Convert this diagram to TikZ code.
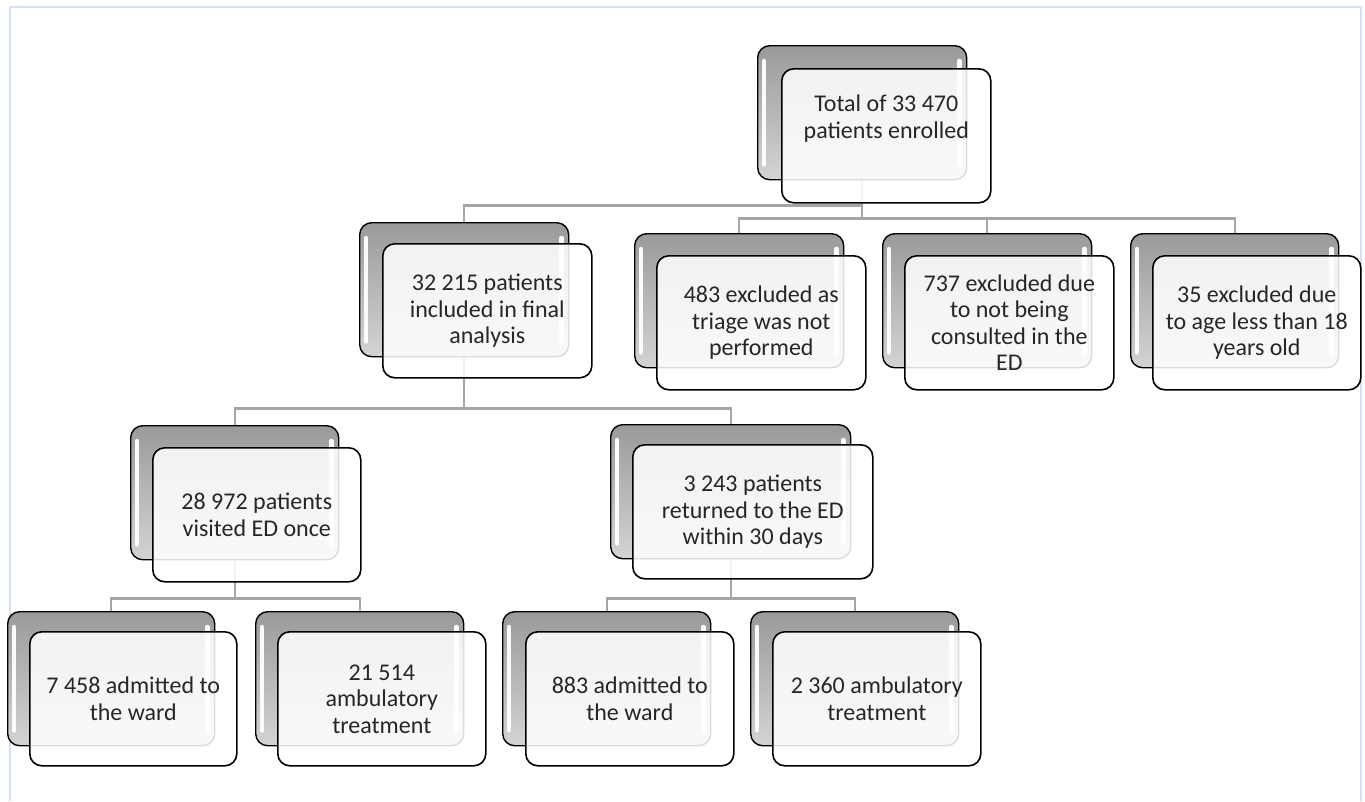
\documentclass[tikz,border=0pt]{standalone}
\usepackage{fontspec}
\setmainfont{Carlito}
\usetikzlibrary{calc}
\pgfdeclarelayer{bg}
\pgfsetlayers{bg,main}
\definecolor{conn}{HTML}{A6A6A6}
\definecolor{framecol}{HTML}{D3E2F4}
\definecolor{backtop}{HTML}{9A9A9A}
\definecolor{backbot}{HTML}{D4D4D4}
\definecolor{txt}{HTML}{262626}
\tikzset{
  backbox/.style={draw=black, line width=1.4pt, rounded corners=12pt, anchor=north west,
    minimum height=134pt, inner sep=0pt, top color=backtop, bottom color=backbot},
  frontbox/.style={draw=black, line width=1.6pt, rounded corners=12pt, anchor=north west,
    minimum height=134pt, minimum width=208pt, inner sep=0pt, fill=white, fill opacity=0.86,
    text opacity=1, text=txt, align=center, font=\fontsize{24}{26.5}\selectfont},
  connector/.style={draw=conn, line width=2.2pt},
  shine/.style={draw=white, line width=4.5pt, line cap=round, opacity=0.95},
}
\newcommand{\pairbox}[7]{%
  % #1 name, #2 back x, #3 back y, #4 width, #5 front x, #6 front y, #7 text
  \node[backbox, minimum width=#4pt] (#1b) at (#2,#3) {};
  \draw[shine] ($(#1b.north west)+(7,16)$) -- ($(#1b.south west)+(7,-16)$);
  \draw[shine] ($(#1b.north east)+(-8,16)$) -- ($(#1b.south east)+(-8,-16)$);
  \node[frontbox, minimum width=#4pt] (#1) at (#5,#6) {#7};
}
\begin{document}
\begin{tikzpicture}[x=1pt, y=-1pt]
\useasboundingbox (0,0) rectangle (1365,801);
\begin{pgfonlayer}{bg}
\fill[white] (0,0) rectangle (1365,801);
\draw[framecol, line width=1.5pt] (10,801) -- (10,7) -- (1361,7) -- (1361,801);
\end{pgfonlayer}
% boxes
\pairbox{top}{757}{45}{209}{781}{68}{Total of 33 470\\patients enrolled\\[4pt]\strut}
\pairbox{n1}{359}{222}{209}{382}{243}{32 215 patients\\included in final\\analysis}
\pairbox{n2}{634}{233}{209}{656}{255}{483 excluded as\\triage was not\\performed}
\pairbox{n3}{882}{233}{209}{904}{255}{737 excluded due\\to not being\\consulted in the\\ED}
\pairbox{n4}{1130}{233}{208}{1152}{255}{35 excluded due\\to age less than 18\\years old}
\pairbox{n5}{130}{425}{208}{152}{447}{28 972 patients\\visited ED once}
\pairbox{n6}{610}{424}{240}{632}{444}{3 243 patients\\returned to the ED\\within 30 days}
\pairbox{n7}{7}{611}{207}{29}{631}{7 458 admitted to\\the ward}
\pairbox{n8}{255}{611}{208}{277}{631}{21 514\\ambulatory\\treatment}
\pairbox{n9}{502}{611}{208}{525}{631}{883 admitted to\\the ward}
\pairbox{n10}{750}{611}{208}{772}{631}{2 360 ambulatory\\treatment}
% connectors, behind the boxes
\begin{pgfonlayer}{bg}
\draw[connector] (topb.south) -- ++(0,25) -| (n1b.north);
\draw[connector] (topb.south) -- ++(0,38) -| (n2b.north);
\draw[connector] (topb.south) -- ++(0,38) -| (n3b.north);
\draw[connector] (topb.south) -- ++(0,38) -| (n4b.north);
\draw[connector] (n1b.south) -- ++(0,51) -| (n5b.north);
\draw[connector] (n1b.south) -- ++(0,51) -| (n6b.north);
\draw[connector] (n5b.south) -- ++(0,38) -| (n7b.north);
\draw[connector] (n5b.south) -- ++(0,38) -| (n8b.north);
\draw[connector] (n6b.south) -- ++(0,39) -| (n9b.north);
\draw[connector] (n6b.south) -- ++(0,39) -| (n10b.north);
\end{pgfonlayer}
\end{tikzpicture}
\end{document}
